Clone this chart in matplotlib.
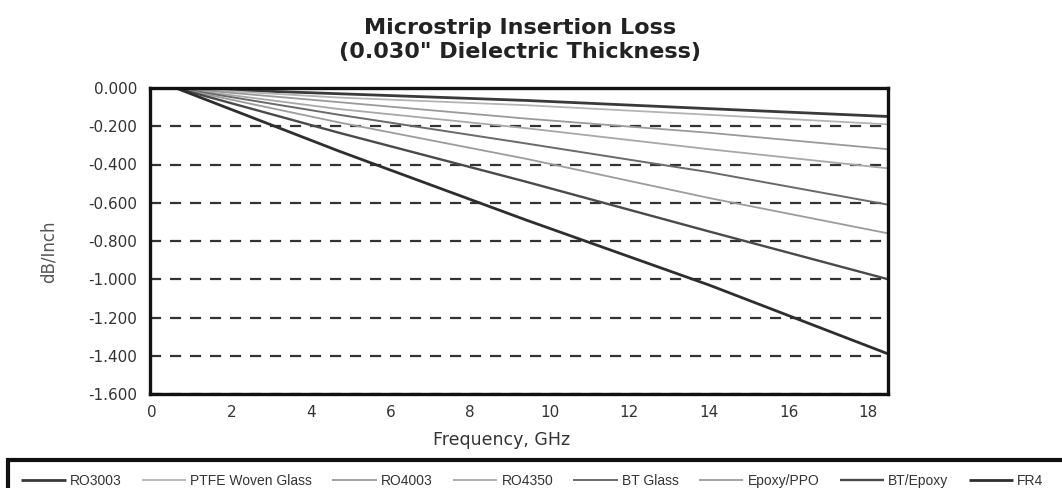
import matplotlib
matplotlib.use("Agg")
import matplotlib.pyplot as plt
from matplotlib.patches import Rectangle

# Frequency points (GHz) at which each laminate's loss is plotted
freq_ghz = [0.6, 4.7, 9.4, 14.0, 18.5]

# Insertion loss, dB per inch, for a 0.030" dielectric microstrip
materials = ["RO3003", "PTFE Woven Glass", "RO4003", "RO4350",
             "BT Glass", "Epoxy/PPO", "BT/Epoxy", "FR4"]
ro3003 = [0.0, -0.030, -0.065, -0.108, -0.149]
ptfe_woven_glass = [0.0, -0.050, -0.090, -0.140, -0.190]
ro4003 = [0.0, -0.074, -0.160, -0.234, -0.320]
ro4350 = [0.0, -0.110, -0.210, -0.320, -0.420]
bt_glass = [0.0, -0.140, -0.290, -0.440, -0.610]
epoxy_ppo = [0.0, -0.180, -0.370, -0.575, -0.760]
bt_epoxy = [0.0, -0.234, -0.490, -0.750, -1.000]
fr4 = [0.0, -0.330, -0.690, -1.030, -1.390]
loss_series = [ro3003, ptfe_woven_glass, ro4003, ro4350,
               bt_glass, epoxy_ppo, bt_epoxy, fr4]

y_ticks = [0.0, -0.2, -0.4, -0.6, -0.8, -1.0, -1.2, -1.4, -1.6]
y_tick_labels = ["0.000", "-0.200", "-0.400", "-0.600", "-0.800",
                 "-1.000", "-1.200", "-1.400", "-1.600"]
x_ticks = [0, 2, 4, 6, 8, 10, 12, 14, 16, 18]
x_tick_labels = ["0", "2", "4", "6", "8", "10", "12", "14", "16", "18"]

# Line appearance per laminate
line_colors = ["#3a3a3a", "#b4b4b4", "#9a9a9a", "#a8a8a8",
               "#6a6a6a", "#9c9c9c", "#4a4a4a", "#2e2e2e"]
line_widths = [2.0, 1.3, 1.3, 1.3, 1.4, 1.3, 1.7, 2.0]

W, H = 1062, 488
fig = plt.figure(figsize=(W / 100, H / 100), dpi=100)
fig.patch.set_facecolor("white")

ax_l, ax_r, ax_t, ax_b = 150, 888, 88, 394
ax = fig.add_axes([ax_l / W, 1 - ax_b / H, (ax_r - ax_l) / W, (ax_b - ax_t) / H])

handles = []
for name, vals, c, lw in zip(materials, loss_series, line_colors, line_widths):
    h, = ax.plot(freq_ghz, vals, color=c, linewidth=lw, label=name,
                 solid_capstyle="butt", zorder=3)
    handles.append(h)

ax.set_xlim(-0.05, 18.5)
ax.set_ylim(-1.6, 0.0)
ax.set_yticks(y_ticks)
ax.set_yticklabels(y_tick_labels)
ax.set_xticks(x_ticks)
ax.set_xticklabels(x_tick_labels)

for lab in ax.get_xticklabels() + ax.get_yticklabels():
    lab.set_fontfamily("DejaVu Sans")
    lab.set_fontsize(11)
    lab.set_color("#333333")
ax.tick_params(axis="both", length=0)
ax.tick_params(axis="y", pad=9)
ax.tick_params(axis="x", pad=8)

ax.yaxis.grid(True, color="#333333", linewidth=1.6, linestyle=(0, (5, 4)))
ax.xaxis.grid(False)
ax.set_axisbelow(True)

for sp in ax.spines.values():
    sp.set_linewidth(2.4)
    sp.set_color("#111111")
    sp.set_zorder(4)

# Titles and axis labels
fig.text(520 / W, 1 - 40 / H,
         "Microstrip Insertion Loss\n(0.030\" Dielectric Thickness)",
         ha="center", va="center", fontsize=16, fontweight="bold",
         family="DejaVu Sans", color="#222222", linespacing=1.25)
fig.text(502 / W, 1 - 440 / H, "Frequency, GHz", ha="center", va="center",
         fontsize=12.5, family="DejaVu Sans", color="#333333")
fig.text(49 / W, 1 - 252 / H, "dB/Inch", ha="center", va="center",
         rotation=90, fontsize=12, family="DejaVu Sans", color="#555555")

# Legend strip along the bottom, its box running off the figure edge
fig.patches.append(Rectangle((8 / W, 1 - 505 / H), 1070 / W, 45 / H,
                             transform=fig.transFigure, fill=False,
                             edgecolor="#111111", linewidth=3.0))
leg = fig.legend(handles, materials, loc="upper left",
                 bbox_to_anchor=(6 / W, 1 - 459 / H), ncol=8,
                 frameon=False, borderpad=0.6, handlelength=3.2,
                 handletextpad=0.3, columnspacing=1.45,
                 prop={"family": "Liberation Sans", "size": 10})
for t in leg.get_texts():
    t.set_color("#333333")

fig.savefig("out.png", dpi=100)
